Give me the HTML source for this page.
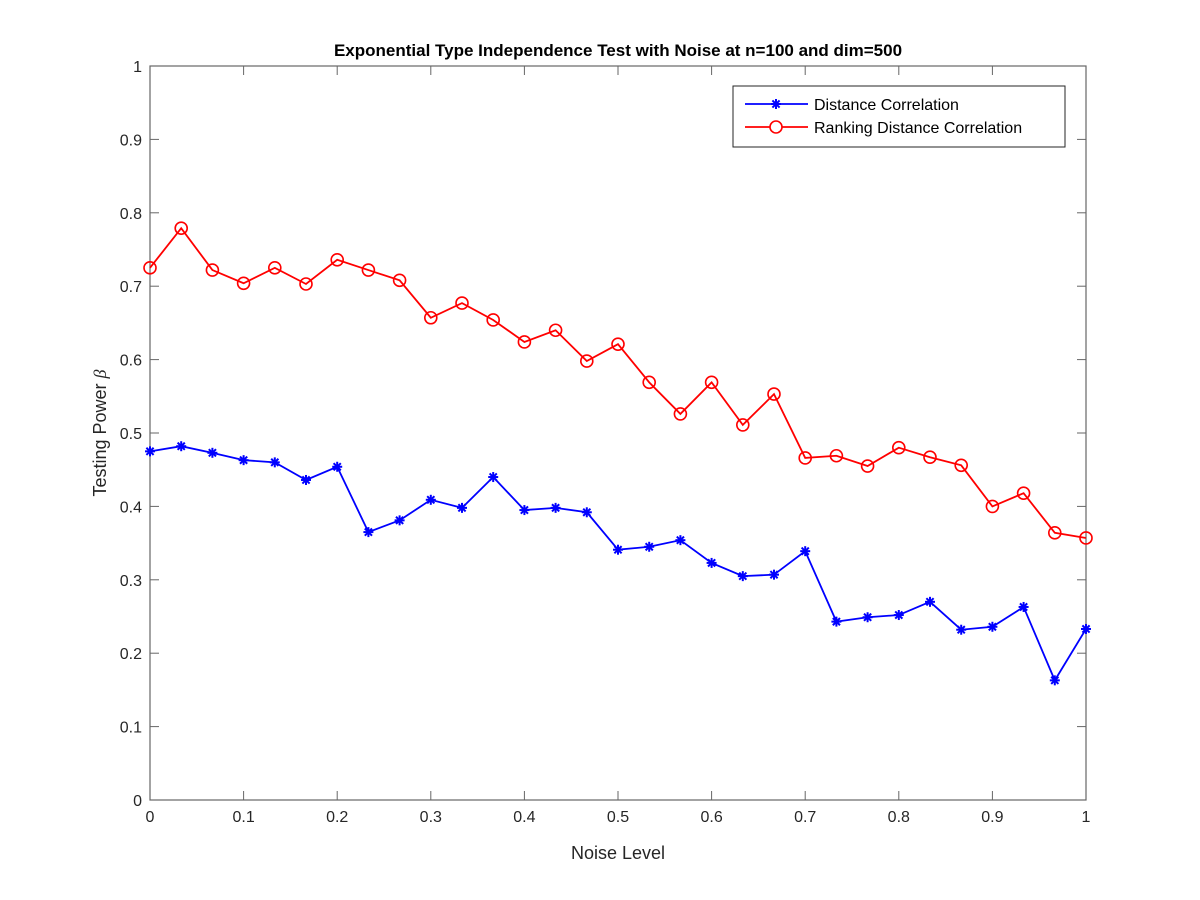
<!DOCTYPE html>
<html><head><meta charset="utf-8"><style>body{margin:0;background:#fff}svg{display:block;font-family:"Liberation Sans",sans-serif}</style></head>
<body>
<svg id="chart" width="1200" height="900"></svg>
<script>
const xValues=[0,1/30,2/30,3/30,4/30,5/30,6/30,7/30,8/30,9/30,10/30,11/30,12/30,13/30,14/30,15/30,16/30,17/30,18/30,19/30,20/30,21/30,22/30,23/30,24/30,25/30,26/30,27/30,28/30,29/30,1];
const dcorValues=[0.475,0.482,0.473,0.463,0.460,0.436,0.454,0.365,0.381,0.409,0.398,0.440,0.395,0.398,0.392,0.341,0.345,0.354,0.323,0.305,0.307,0.339,0.243,0.249,0.252,0.270,0.232,0.236,0.263,0.163,0.233];
const rdcorValues=[0.725,0.779,0.722,0.704,0.725,0.703,0.736,0.722,0.708,0.657,0.677,0.654,0.624,0.640,0.598,0.621,0.569,0.526,0.569,0.511,0.553,0.466,0.469,0.455,0.480,0.467,0.456,0.400,0.418,0.364,0.357];
const xTicks=[0,0.1,0.2,0.3,0.4,0.5,0.6,0.7,0.8,0.9,1];
const yTicks=[0,0.1,0.2,0.3,0.4,0.5,0.6,0.7,0.8,0.9,1];
const NS="http://www.w3.org/2000/svg";
const svg=document.getElementById('chart');
const L=150,R=1086,T=66,B=800;
const sx=v=>L+(R-L)*v, sy=v=>B-(B-T)*v;
function mk(tag,attrs,parent){const e=document.createElementNS(NS,tag);for(const k in attrs)e.setAttribute(k,attrs[k]);(parent||svg).appendChild(e);return e;}
const axes=mk('rect',{x:L,y:T,width:R-L,height:B-T,fill:'#fff',stroke:'#666','stroke-width':1.2});


xTicks.forEach(v=>{
  const x=sx(v);
  mk('line',{x1:x,y1:B,x2:x,y2:B-9,stroke:'#666'});
  mk('line',{x1:x,y1:T,x2:x,y2:T+9,stroke:'#666'});
  const t=mk('text',{x:x,y:B+22,'text-anchor':'middle','font-size':16,fill:'#262626'});t.textContent=String(v);
  
  
});
yTicks.forEach(v=>{
  const y=sy(v);
  mk('line',{x1:L,y1:y,x2:L+9,y2:y,stroke:'#666'});
  mk('line',{x1:R,y1:y,x2:R-9,y2:y,stroke:'#666'});
  const t=mk('text',{x:L-8,y:y+6,'text-anchor':'end','font-size':16,fill:'#262626'});t.textContent=String(v);
  
  
});
function star(x,y,c,g){
  const s=5;
  mk('line',{x1:x-s,y1:y,x2:x+s,y2:y,stroke:c,'stroke-width':2},g);
  mk('line',{x1:x,y1:y-s,x2:x,y2:y+s,stroke:c,'stroke-width':2},g);
  mk('line',{x1:x-3.6,y1:y-3.6,x2:x+3.6,y2:y+3.6,stroke:c,'stroke-width':2},g);
  mk('line',{x1:x-3.6,y1:y+3.6,x2:x+3.6,y2:y-3.6,stroke:c,'stroke-width':2},g);
}
function series(vals,color,marker,name){
  const g=mk('g',{});
  
  
  mk('polyline',{points:vals.map((v,i)=>sx(xValues[i])+','+sy(v)).join(' '),fill:'none',stroke:color,'stroke-width':1.8},g);
  vals.forEach((v,i)=>{
    if(marker==='o')mk('circle',{cx:sx(xValues[i]),cy:sy(v),r:6,fill:'none',stroke:color,'stroke-width':1.6},g);
    else star(sx(xValues[i]),sy(v),color,g);
  });
}
series(rdcorValues,'#ff0000','o','series-ranking-distance-correlation');
series(dcorValues,'#0000ff','*','series-distance-correlation');
const title=mk('text',{x:(L+R)/2,y:56,'text-anchor':'middle','font-size':17,'font-weight':'bold',fill:'#000'});
title.textContent='Exponential Type Independence Test with Noise at n=100 and dim=500';


const xl=mk('text',{x:(L+R)/2,y:859,'text-anchor':'middle','font-size':18,fill:'#262626'});
xl.textContent='Noise Level';


const yl=mk('text',{x:0,y:0,'text-anchor':'middle','font-size':18,fill:'#262626',transform:'translate(106,433) rotate(-90)'});
yl.innerHTML='Testing Power <tspan font-family="Liberation Serif" font-style="italic">β</tspan>';


const lg=mk('g',{});


mk('rect',{x:733,y:86,width:332,height:61,fill:'#fff',stroke:'#262626'},lg);
mk('line',{x1:745,y1:104,x2:808,y2:104,stroke:'#0000ff','stroke-width':1.8},lg);
star(776,104,'#0000ff',lg);
mk('line',{x1:745,y1:127,x2:808,y2:127,stroke:'#ff0000','stroke-width':1.8},lg);
mk('circle',{cx:776,cy:127,r:6,fill:'#fff',stroke:'#ff0000','stroke-width':1.6},lg);
const l1=mk('text',{x:814,y:110,'font-size':16,fill:'#000'},lg);l1.textContent='Distance Correlation';


const l2=mk('text',{x:814,y:133,'font-size':16,fill:'#000'},lg);l2.textContent='Ranking Distance Correlation';


</script>
</body></html>
